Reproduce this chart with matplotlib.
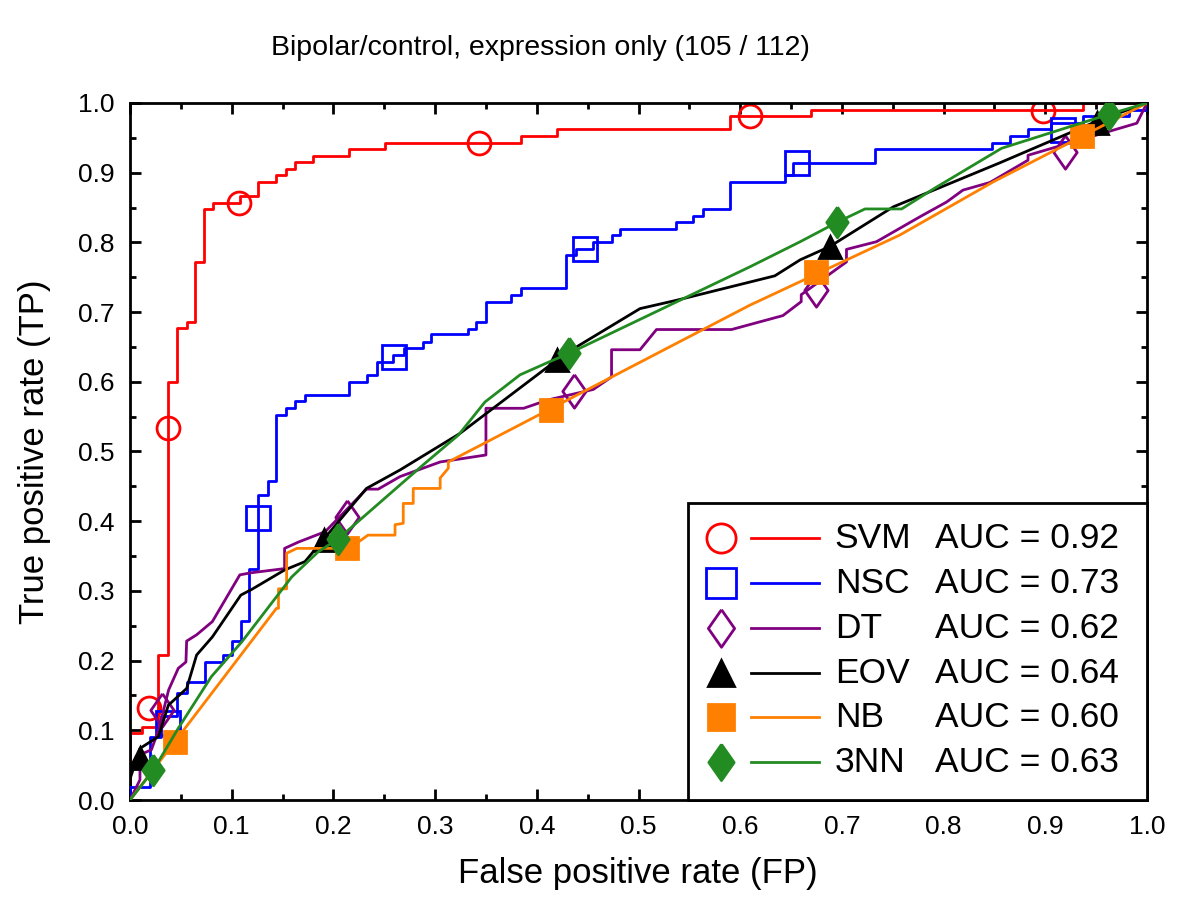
import matplotlib
matplotlib.use('Agg')
import matplotlib.pyplot as plt
from matplotlib import font_manager
from matplotlib.patches import Rectangle
from matplotlib.ticker import MultipleLocator, FormatStrFormatter

# ---- data ----
names = ['SVM', 'NSC', 'DT', 'EOV', 'NB', '3NN']
aucs = [0.92, 0.73, 0.62, 0.64, 0.60, 0.63]

# SVM and NSC are step curves (steps-post corner points)
svm_fp = [0, 0, 0.0115, 0.0275, 0.0377, 0.046, 0.056, 0.064, 0.0728, 0.082, 0.108, 0.126,
          0.144, 0.153, 0.162, 0.180, 0.215, 0.251, 0.384, 0.420, 0.590, 0.670, 0.937, 1.0]
svm_tp = [0, 0.096, 0.105, 0.208, 0.600, 0.677, 0.686, 0.772, 0.848, 0.857, 0.867, 0.886,
          0.896, 0.905, 0.915, 0.924, 0.934, 0.943, 0.953, 0.963, 0.981, 0.990, 1.0, 1.0]
svm_mk_fp = [0.0187, 0.037, 0.107, 0.343, 0.610, 0.898]
svm_mk_tp = [0.132, 0.534, 0.857, 0.943, 0.981, 0.989]

nsc_fp = [0, 0, 0.0197, 0.030, 0.046, 0.0557, 0.0737, 0.0918, 0.100, 0.109, 0.117, 0.126,
          0.136, 0.144, 0.153, 0.162, 0.172, 0.215, 0.233, 0.2425, 0.259, 0.269, 0.288,
          0.296, 0.332, 0.340, 0.350, 0.375, 0.384, 0.429, 0.4385, 0.455, 0.4735, 0.482,
          0.537, 0.554, 0.563, 0.590, 0.644, 0.652, 0.7325, 0.848, 0.865, 0.883, 0.906,
          0.937, 0.982, 1.0]
nsc_tp = [0, 0.019, 0.09, 0.12, 0.153, 0.170, 0.198, 0.208, 0.228, 0.257, 0.332, 0.4376,
          0.4577, 0.552, 0.562, 0.572, 0.581, 0.600, 0.610, 0.629, 0.638, 0.648, 0.657,
          0.668, 0.676, 0.686, 0.714, 0.724, 0.734, 0.782, 0.790, 0.801, 0.810, 0.819,
          0.8295, 0.838, 0.848, 0.886, 0.897, 0.914, 0.934, 0.943, 0.953, 0.962, 0.972,
          0.981, 0.990, 1.0]
nsc_mk_fp = [0.037, 0.126, 0.260, 0.447, 0.656, 0.917]
nsc_mk_tp = [0.110, 0.404, 0.636, 0.790, 0.914, 0.961]

dt_fp = [0, 0.0098, 0.0098, 0.021, 0.028, 0.038, 0.0475, 0.055, 0.0557, 0.0655, 0.081,
         0.108, 0.119, 0.152, 0.152, 0.1655, 0.192, 0.2325, 0.244, 0.2655, 0.305, 0.350,
         0.350, 0.387, 0.411, 0.4555, 0.4735, 0.4735, 0.5015, 0.5177, 0.5915, 0.642, 0.660,
         0.660, 0.7045, 0.7045, 0.734, 0.777, 0.803, 0.819, 0.8456, 0.883, 0.883, 0.990, 1.0]
dt_tp = [0, 0.029, 0.065, 0.072, 0.100, 0.158, 0.189, 0.198, 0.228, 0.237, 0.256,
         0.323, 0.326, 0.332, 0.361, 0.370, 0.385, 0.446, 0.446, 0.464, 0.485, 0.495,
         0.562, 0.562, 0.574, 0.589, 0.607, 0.646, 0.646, 0.675, 0.675, 0.695, 0.715,
         0.725, 0.772, 0.790, 0.801, 0.837, 0.858, 0.875, 0.886, 0.918, 0.925, 0.971, 1.0]
dt_mk_fp = [0.031, 0.213, 0.437, 0.675, 0.919]
dt_mk_tp = [0.129, 0.406, 0.587, 0.732, 0.930]

eov_fp = [0, 0.0098, 0.028, 0.0377, 0.0557, 0.0655, 0.081, 0.109, 0.1195, 0.152, 0.172,
          0.191, 0.2325, 0.2655, 0.3245, 0.4195, 0.439, 0.5015, 0.5375, 0.634, 0.659,
          0.688, 0.7505, 0.855, 0.9046, 0.954, 1.0]
eov_tp = [0.03, 0.074, 0.091, 0.136, 0.160, 0.208, 0.234, 0.294, 0.302, 0.330, 0.342,
          0.375, 0.447, 0.4735, 0.526, 0.631, 0.650, 0.705, 0.717, 0.752, 0.775,
          0.794, 0.851, 0.914, 0.945, 0.976, 1.0]
eov_mk_fp = [0.0098, 0.191, 0.4195, 0.688, 0.951]
eov_mk_tp = [0.060, 0.373, 0.631, 0.794, 0.972]

nb_fp = [0, 0.044, 0.144, 0.146, 0.146, 0.154, 0.154, 0.164, 0.213, 0.2245, 0.234, 0.2606,
         0.2606, 0.2687, 0.2687, 0.2785, 0.2785, 0.305, 0.305, 0.313, 0.313, 0.6096, 0.757,
         0.849, 1.0]
nb_tp = [0, 0.0836, 0.275, 0.275, 0.303, 0.303, 0.354, 0.361, 0.361, 0.370, 0.380, 0.380,
         0.395, 0.397, 0.4255, 0.4255, 0.447, 0.447, 0.462, 0.476, 0.485, 0.710, 0.8106,
         0.887, 1.0]
nb_mk_fp = [0.044, 0.213, 0.414, 0.675, 0.936]
nb_mk_tp = [0.0836, 0.361, 0.5595, 0.757, 0.952]

knn_fp = [0, 0.023, 0.0475, 0.080, 0.110, 0.159, 0.185, 0.205, 0.2655, 0.290, 0.323, 0.349,
          0.3835, 0.4097, 0.432, 0.5408, 0.6096, 0.659, 0.6955, 0.7227, 0.7587, 0.7915,
          0.857, 0.963, 1.0]
knn_tp = [0, 0.043, 0.103, 0.177, 0.227, 0.320, 0.356, 0.375, 0.452, 0.483, 0.5237, 0.571,
          0.610, 0.627, 0.641, 0.717, 0.765, 0.801, 0.829, 0.848, 0.848, 0.878,
          0.935, 0.984, 1.0]
knn_mk_fp = [0.023, 0.205, 0.432, 0.6955, 0.963]
knn_mk_tp = [0.043, 0.375, 0.641, 0.829, 0.984]

# ---- styling ----
plt.rcParams['font.family'] = ['Liberation Sans', 'DejaVu Sans']

diamond = [(0, 1), (0.7, 0), (0, -1), (-0.7, 0), (0, 1)]
red = '#ff0000'
blue = '#0000ff'
purple = '#800080'
orange = '#ff8000'
green = '#228b22'

# colour, marker, plot size, legend size, filled
styles = [
    (red, 'o', 16.5, 21, False),
    (blue, 's', 17, 21, False),
    (purple, diamond, 24, 27, False),
    ('black', '^', 15.5, 19, True),
    (orange, 's', 16, 19, True),
    (green, diamond, 22, 26, True),
]

curves = [
    (svm_fp, svm_tp, svm_mk_fp, svm_mk_tp, 'steps-post'),
    (nsc_fp, nsc_tp, nsc_mk_fp, nsc_mk_tp, 'steps-post'),
    (dt_fp, dt_tp, dt_mk_fp, dt_mk_tp, 'default'),
    (eov_fp, eov_tp, eov_mk_fp, eov_mk_tp, 'default'),
    (nb_fp, nb_tp, nb_mk_fp, nb_mk_tp, 'default'),
    (knn_fp, knn_tp, knn_mk_fp, knn_mk_tp, 'default'),
]

fig = plt.figure(figsize=(12, 9.05), dpi=100)
ax = fig.add_axes([130 / 1200, 105 / 905, 1017 / 1200, 697 / 905])

for i, (fp, tp, mfp, mtp, ds) in enumerate(curves):
    col, mk, ms, lms, filled = styles[i]
    z = 2 + i
    ax.plot(fp, tp, color=col, lw=2.0, drawstyle=ds, zorder=z)
    ax.plot(mfp, mtp, ls='none', marker=mk, ms=ms, mec=col,
            mfc=col if filled else 'none', mew=2.0, zorder=z)

ax.set_xlim(0, 1)
ax.set_ylim(0, 1)
ax.xaxis.set_major_locator(MultipleLocator(0.1))
ax.yaxis.set_major_locator(MultipleLocator(0.1))
ax.xaxis.set_minor_locator(MultipleLocator(0.05))
ax.yaxis.set_minor_locator(MultipleLocator(0.05))
ax.xaxis.set_major_formatter(FormatStrFormatter('%.1f'))
ax.yaxis.set_major_formatter(FormatStrFormatter('%.1f'))
ax.tick_params(which='both', direction='in', top=True, right=True, width=2.0)
ax.tick_params(which='major', length=8, labelsize=19, pad=11)
ax.tick_params(which='minor', length=4)
for s in ax.spines.values():
    s.set_linewidth(2.0)

ax.set_xlabel('False positive rate (FP)', fontsize=25)
ax.set_ylabel('True positive rate (TP)', fontsize=25)
ax.xaxis.set_label_coords(0.499, -0.082)
ax.yaxis.set_label_coords(-0.078, 0.5)

# title in a narrow face if there is one
try:
    font_manager.findfont('Liberation Sans Narrow', fallback_to_default=False)
    title_family, title_size = ['Liberation Sans Narrow', 'DejaVu Sans'], 23
except ValueError:
    title_family, title_size = ['Liberation Sans', 'DejaVu Sans'], 20.5
fig.text(540 / 1200, 1 - 48 / 905, 'Bipolar/control, expression only (105 / 112)',
         ha='center', va='center', fontsize=title_size, family=title_family)

# ---- legend box drawn by hand ----
lx0, ly1 = 0.549, 0.426
ax.add_patch(Rectangle((lx0, 0), 1 - lx0, ly1, transform=ax.transAxes,
                       facecolor='white', edgecolor='black', lw=2.0, zorder=20,
                       clip_on=False))
row_y = [0.3755, 0.311, 0.2464, 0.182, 0.1187, 0.054]
for i, name in enumerate(names):
    col, mk, ms, lms, filled = styles[i]
    y = row_y[i]
    ax.plot([0.581], [y], transform=ax.transAxes, ls='none', marker=mk, ms=lms,
            mec=col, mfc=col if filled else 'none', mew=2.0, zorder=21, clip_on=False)
    ax.plot([0.611, 0.677], [y, y], transform=ax.transAxes, color=col, lw=2.0,
            zorder=21, clip_on=False)
    ax.text(0.693, y, name, transform=ax.transAxes, fontsize=25.5, va='center',
            ha='left', zorder=22)
    ax.text(0.7915, y, 'AUC = %.2f' % aucs[i], transform=ax.transAxes, fontsize=25.5,
            va='center', ha='left', zorder=22)

fig.savefig('out.png', dpi=100)
